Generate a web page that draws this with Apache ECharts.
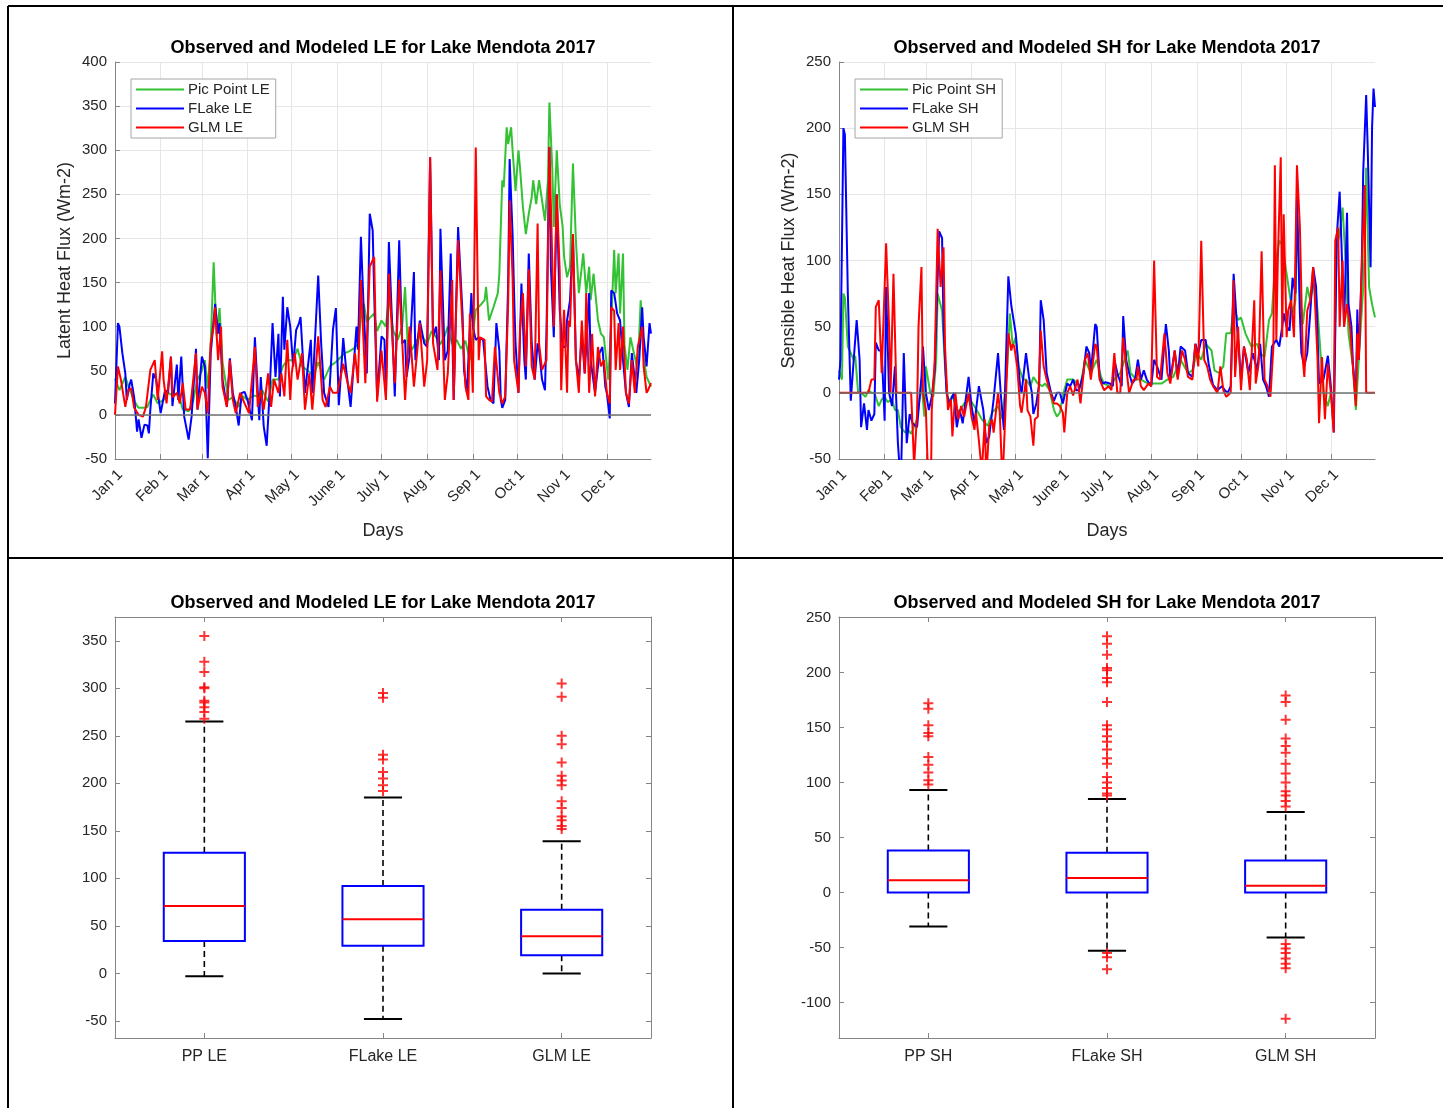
<!DOCTYPE html>
<html>
<head>
<meta charset="utf-8">
<title>Lake Mendota 2017 heat fluxes</title>
<script src="https://cdn.jsdelivr.net/npm/echarts@6/dist/echarts.min.js"></script>
<style>
  html, body { margin: 0; padding: 0; background: #fff; }
  #chart { width: 1443px; height: 1108px; }
</style>
</head>
<body>
<div id="chart"></div>
<script>
// ---- Axis categories -------------------------------------------------------
const monthLabels = ['Jan 1', 'Feb 1', 'Mar 1', 'Apr 1', 'May 1', 'June 1', 'July 1', 'Aug 1', 'Sep 1', 'Oct 1', 'Nov 1', 'Dec 1'];
const monthStartDays = [0, 31, 59, 90, 120, 151, 181, 212, 243, 273, 304, 334];
const leBoxLabels = ['PP LE', 'FLake LE', 'GLM LE'];
const shBoxLabels = ['PP SH', 'FLake SH', 'GLM SH'];

// ---- Latent heat flux, [day of year, W m-2] --------------------------------
const ppLE = [[0,41],[3,28],[7,43],[10,28],[14,13],[16,8],[19,8],[22,9],[24,17],[26,23],[29,13],[33,17],[36,25],[39,22],[43,25],[46,6],[50,4],[53,15],[56,40],[59,50],[61,62],[63,30],[65,81],[67,173],[69,90],[71,121],[73,60],[77,17],[80,20],[84,9],[87,21],[90,17],[94,22],[97,21],[100,28],[104,15],[107,40],[111,40],[114,55],[117,62],[121,62],[124,75],[127,55],[131,50],[135,45],[138,60],[142,40],[146,55],[150,60],[153,65],[156,70],[159,72],[162,75],[165,80],[167,110],[169,126],[171,105],[173,110],[176,115],[178,95],[181,107],[184,100],[186,134],[189,95],[192,85],[195,100],[197,145],[199,70],[202,75],[205,85],[208,90],[212,81],[215,95],[218,88],[221,80],[224,90],[226,100],[229,80],[232,85],[235,75],[238,84],[241,62],[245,119],[249,126],[251,130],[252,145],[254,107],[257,122],[260,138],[261,160],[263,266],[264,258],[266,326],[267,307],[269,326],[270,300],[272,254],[274,300],[275,281],[277,236],[279,205],[281,228],[283,247],[284,266],[286,239],[288,266],[290,243],[292,220],[294,266],[295,354],[297,277],[298,213],[300,300],[302,239],[304,213],[305,179],[307,156],[309,168],[311,285],[313,198],[315,138],[318,183],[320,138],[322,168],[323,130],[325,160],[328,107],[330,92],[332,88],[335,40],[337,104],[339,187],[340,138],[342,183],[343,115],[345,183],[346,80],[348,51],[350,88],[352,73],[355,51],[357,130],[359,65],[361,43],[364,32]];

const flakeLE = [[0,13],[2,104],[3,100],[5,70],[7,47],[8,17],[10,35],[11,40],[13,20],[15,-19],[16,-5],[18,-26],[20,-11],[22,-12],[23,-21],[24,6],[26,47],[28,40],[29,26],[31,2],[34,28],[36,25],[38,66],[39,10],[42,57],[43,17],[45,66],[47,-2],[50,-28],[52,-2],[55,75],[56,6],[59,66],[61,55],[63,-49],[65,70],[68,126],[70,92],[71,104],[73,40],[76,9],[78,64],[80,25],[82,9],[84,-12],[86,25],[88,26],[90,17],[93,-6],[95,88],[97,25],[98,-6],[99,43],[101,-13],[103,-35],[105,25],[107,104],[109,43],[111,92],[112,21],[114,134],[115,74],[117,122],[119,100],[121,55],[123,96],[125,104],[126,111],[129,25],[133,85],[134,25],[138,158],[140,81],[142,25],[145,9],[148,96],[150,121],[152,11],[155,87],[157,51],[160,9],[164,100],[165,74],[167,202],[169,115],[171,47],[173,228],[175,209],[176,138],[178,21],[181,89],[183,85],[184,21],[186,196],[188,111],[190,21],[193,198],[195,81],[197,85],[198,43],[200,66],[203,162],[204,62],[207,107],[210,81],[212,77],[214,292],[216,89],[218,100],[220,62],[221,211],[224,62],[226,73],[228,183],[230,17],[233,213],[236,115],[237,51],[239,25],[242,138],[243,100],[245,85],[247,88],[250,85],[253,32],[255,17],[257,13],[259,104],[261,73],[262,17],[263,8],[265,17],[267,150],[268,290],[270,205],[271,138],[272,81],[274,25],[276,149],[278,62],[279,40],[281,183],[283,81],[285,40],[287,81],[288,73],[290,40],[292,28],[293,92],[295,303],[296,168],[298,88],[300,250],[302,119],[304,77],[306,77],[307,107],[309,130],[311,202],[313,62],[315,40],[317,92],[319,47],[322,138],[323,62],[326,25],[329,70],[331,77],[333,32],[334,25],[336,-4],[337,141],[339,138],[341,115],[343,107],[345,62],[347,25],[349,9],[351,70],[354,25],[356,62],[358,122],[359,88],[361,55],[363,104],[364,92]];

const glmLE = [[0,0],[2,55],[4,40],[7,9],[9,28],[11,30],[13,8],[16,0],[19,-2],[21,9],[24,51],[27,62],[29,17],[32,72],[33,40],[35,13],[38,66],[39,20],[42,25],[44,13],[46,36],[48,6],[51,6],[55,70],[56,6],[59,32],[61,25],[63,2],[65,81],[67,100],[68,122],[70,62],[72,100],[73,32],[76,9],[78,62],[80,17],[82,2],[85,25],[88,13],[91,2],[95,77],[97,9],[99,28],[101,6],[104,47],[106,9],[108,40],[111,25],[113,47],[115,21],[117,85],[119,17],[120,47],[122,70],[124,40],[127,70],[129,6],[132,47],[134,6],[138,89],[141,17],[143,9],[146,32],[148,25],[151,25],[155,58],[158,36],[160,25],[163,70],[165,36],[167,153],[170,36],[173,168],[176,179],[178,15],[181,73],[184,17],[186,160],[190,36],[193,153],[197,17],[200,100],[203,32],[207,104],[210,32],[212,62],[214,292],[216,81],[219,51],[221,164],[224,17],[226,47],[229,153],[230,17],[233,198],[236,100],[238,32],[240,17],[241,115],[243,25],[245,303],[247,62],[248,88],[251,85],[252,21],[254,17],[256,15],[258,77],[261,25],[263,13],[265,21],[267,126],[268,243],[270,156],[271,62],[274,25],[275,96],[277,138],[279,55],[281,165],[283,55],[285,40],[287,217],[288,81],[290,51],[293,62],[295,304],[297,172],[298,100],[300,250],[302,164],[303,28],[305,119],[307,25],[308,107],[309,100],[311,205],[313,62],[315,25],[317,107],[319,47],[320,138],[322,25],[324,92],[326,21],[328,77],[330,55],[332,62],[334,25],[336,13],[337,122],[339,118],[340,51],[342,104],[343,51],[345,100],[347,25],[349,13],[351,62],[353,25],[355,77],[358,100],[359,55],[361,25],[362,28],[364,36]];

// ---- Sensible heat flux, [day of year, W m-2] ------------------------------
const ppSH = [[0,17],[2,10],[3,75],[4,72],[6,35],[8,30],[10,25],[11,28],[13,0],[15,0],[18,-3],[20,2],[22,0],[24,0],[27,-10],[29,-5],[31,-3],[33,-7],[36,-5],[38,-13],[40,-13],[42,-26],[45,-30],[47,-28],[49,-31],[53,-20],[56,7],[58,-18],[59,20],[62,0],[64,-3],[66,25],[67,75],[70,62],[72,20],[74,-8],[77,-2],[81,-15],[85,-8],[89,-5],[93,-12],[97,-20],[101,-25],[104,-15],[108,-10],[111,-20],[114,15],[116,60],[118,35],[120,42],[122,20],[125,10],[127,10],[130,5],[132,12],[135,7],[138,5],[140,7],[143,2],[146,-13],[148,-18],[150,-15],[152,-2],[155,10],[159,10],[162,7],[164,5],[167,25],[171,15],[175,25],[178,12],[180,7],[184,5],[187,10],[191,15],[196,32],[198,15],[202,10],[205,10],[210,7],[214,7],[219,7],[223,10],[227,12],[232,25],[237,15],[240,17],[243,30],[246,25],[249,37],[253,32],[255,17],[258,15],[261,20],[263,45],[266,45],[268,65],[271,55],[273,57],[276,45],[278,40],[280,35],[284,37],[286,30],[289,27],[292,55],[294,60],[296,95],[299,115],[301,112],[303,97],[306,75],[308,60],[310,70],[311,137],[313,75],[315,52],[318,80],[320,70],[323,85],[325,62],[327,30],[329,0],[332,-10],[334,0],[336,0],[338,110],[340,120],[342,140],[344,100],[346,45],[349,20],[351,-13],[353,25],[356,80],[357,110],[358,170],[360,80],[362,67],[364,57]];

const flakeSH = [[0,10],[1,25],[3,200],[4,195],[6,75],[8,-6],[10,25],[12,55],[14,25],[15,-26],[17,-8],[19,-28],[20,-13],[22,-21],[24,-16],[25,38],[27,32],[29,32],[31,-21],[32,80],[34,0],[36,-10],[38,20],[40,-38],[42,-70],[44,30],[46,-38],[48,-16],[50,-23],[53,-26],[56,12],[57,35],[59,0],[61,-13],[63,-3],[65,17],[68,122],[70,117],[71,50],[73,0],[75,-8],[78,0],[80,-26],[82,-13],[84,-23],[88,12],[90,-10],[92,-23],[95,5],[98,-13],[100,-38],[102,-33],[105,-5],[108,30],[110,-3],[112,-28],[115,88],[117,66],[118,65],[120,45],[121,32],[123,5],[124,0],[127,30],[129,12],[131,0],[132,-16],[134,-8],[136,7],[137,70],[139,55],[141,15],[142,10],[144,0],[146,-6],[148,0],[150,0],[152,-8],[155,7],[157,5],[159,10],[161,2],[163,2],[166,15],[168,35],[170,30],[171,15],[174,52],[175,50],[177,12],[179,7],[181,8],[184,7],[186,5],[187,25],[189,15],[192,5],[193,58],[195,25],[197,15],[199,7],[201,10],[203,25],[205,10],[207,17],[209,10],[212,5],[214,25],[216,20],[219,10],[222,52],[224,32],[225,10],[228,32],[230,12],[232,35],[235,32],[237,15],[240,12],[242,37],[244,30],[246,40],[249,40],[251,22],[254,6],[257,2],[260,5],[262,2],[264,0],[266,5],[268,90],[270,55],[273,10],[275,35],[278,15],[281,30],[284,17],[286,37],[288,10],[290,5],[292,-3],[294,35],[297,40],[299,35],[301,50],[302,60],[304,50],[306,47],[308,87],[310,75],[311,148],[313,60],[314,30],[316,20],[318,30],[320,60],[322,95],[324,80],[326,7],[329,10],[332,28],[334,5],[336,-30],[338,117],[340,152],[341,120],[343,50],[345,136],[346,67],[348,50],[349,22],[351,-5],[352,63],[353,25],[355,95],[356,167],[358,225],[359,187],[361,95],[362,200],[363,230],[364,216]];

const glmSH = [[0,0],[20,0],[22,10],[24,10],[25,65],[27,70],[28,70],[29,15],[32,113],[34,50],[35,0],[37,90],[39,0],[49,0],[51,-55],[53,-16],[54,50],[56,95],[57,0],[59,-13],[62,-115],[63,-13],[65,25],[67,124],[69,80],[71,110],[72,35],[74,-13],[76,-5],[77,-33],[79,0],[81,-20],[83,-10],[85,-18],[88,0],[90,-18],[92,-28],[93,-15],[95,-36],[97,-60],[99,-20],[100,-65],[102,-25],[104,-20],[105,-30],[108,0],[109,-10],[111,-69],[113,-15],[115,45],[117,32],[118,37],[119,35],[121,20],[123,-10],[124,-15],[127,10],[128,-13],[130,-18],[132,-40],[133,-20],[135,-18],[137,47],[139,20],[141,10],[143,2],[146,-8],[148,-8],[150,-10],[152,-15],[153,-30],[155,0],[157,5],[159,-2],[162,10],[164,-8],[167,25],[169,30],[171,10],[174,37],[175,35],[177,10],[180,2],[183,5],[185,2],[187,30],[189,0],[191,0],[193,42],[196,10],[197,0],[200,10],[202,10],[203,20],[205,5],[207,2],[210,7],[212,5],[214,100],[216,12],[218,10],[221,45],[223,15],[225,7],[228,32],[230,10],[233,32],[235,25],[237,12],[240,10],[242,37],[244,20],[246,115],[248,25],[250,20],[252,10],[254,5],[257,0],[259,20],[261,2],[263,-3],[266,0],[268,85],[269,12],[271,50],[273,2],[275,35],[277,25],[279,2],[282,70],[283,7],[285,22],[287,107],[289,10],[291,5],[293,-3],[295,35],[296,172],[297,40],[298,100],[300,178],[301,42],[302,135],[304,42],[305,62],[307,70],[309,42],[311,172],[313,125],[315,25],[316,12],[318,62],[320,70],[322,95],[323,75],[325,25],[326,-23],[328,27],[330,-20],[332,22],[334,0],[336,-30],[337,115],[339,125],[340,50],[342,100],[343,50],[345,67],[347,50],[349,20],[351,-10],[352,45],[353,25],[355,95],[357,157],[358,0],[364,0]];

// ---- Box plot statistics: [lower whisker, Q1, median, Q3, upper whisker] ---
const ppLEBox = [-3, 34, 71, 127, 265];
const flakeLEBox = [-48, 29, 57, 92, 185];
const glmLEBox = [0, 19, 39, 67, 139];
const ppSHBox = [-31, 0, 11, 38, 93];
const flakeSHBox = [-53, 0, 13, 36, 85];
const glmSHBox = [-41, 0, 6, 29, 73];

// ---- Outliers ----------------------------------------------------------------
const ppLEOut = [355, 328, 317, 301, 300, 287, 285, 280, 275, 268];
const flakeLEOut = [295, 290, 230, 225, 212, 205, 198, 192];
const glmLEOut = [305, 291, 250, 241, 222, 208, 203, 198, 181, 174, 165, 161, 155, 152];
const ppSHOut = [172, 167, 152, 145, 142, 123, 116, 109, 102, 98];
const flakeSHOut = [233, 226, 216, 204, 202, 195, 191, 173, 152, 148, 142, 137, 130, 122, 117, 105, 100, 95, 90, 88, -55, -59, -70];
const glmSHOut = [179, 173, 157, 140, 133, 127, 117, 108, 100, 92, 88, 83, 78, -47, -51, -55, -60, -65, -69, -115];

// ---- Styling -----------------------------------------------------------------
const FONT = "'Liberation Sans', Arial, Helvetica, sans-serif";
const TXT = '#262626';
const AXIS = '#858585';
const GRIDLINE = '#e6e6e6';
const GREEN = '#33c233';
const BLUE = '#0000ff';
const RED = '#ff0000';

const dayCats = Array.from({ length: 365 }, (_, i) => String(i));
const isMonthStart = (idx) => monthStartDays.indexOf(idx) >= 0;

function timeXAxis(gridIndex) {
  return {
    type: 'category', gridIndex, data: dayCats, boundaryGap: false,
    name: 'Days', nameLocation: 'middle', nameGap: 63,
    nameTextStyle: { fontFamily: FONT, fontSize: 18, color: TXT },
    axisLine: { show: true, onZero: false, lineStyle: { color: AXIS, width: 1 } },
    axisTick: { show: true, inside: true, length: 5, interval: isMonthStart, lineStyle: { color: AXIS } },
    splitLine: { show: true, interval: isMonthStart, lineStyle: { color: GRIDLINE, width: 1 } },
    axisLabel: {
      interval: isMonthStart, rotate: 45, margin: 8, verticalAlign: 'top',
      fontFamily: FONT, fontSize: 15, color: TXT,
      formatter: (v) => { const k = monthStartDays.indexOf(Number(v)); return k >= 0 ? monthLabels[k] : ''; }
    }
  };
}

function timeYAxis(gridIndex, min, max, name) {
  return {
    type: 'value', gridIndex, min, max, interval: 50,
    name, nameLocation: 'middle', nameGap: 41,
    nameTextStyle: { fontFamily: FONT, fontSize: 18, color: TXT },
    axisLine: { show: true, onZero: false, lineStyle: { color: AXIS, width: 1 } },
    axisTick: { show: true, inside: true, length: 5, lineStyle: { color: AXIS } },
    splitLine: { show: true, lineStyle: { color: GRIDLINE, width: 1 } },
    axisLabel: { fontFamily: FONT, fontSize: 15, color: TXT, margin: 8 }
  };
}

function boxXAxis(gridIndex, labels, top) {
  return {
    type: 'category', gridIndex, data: labels, position: top ? 'top' : 'bottom',
    axisLine: { show: true, onZero: false, lineStyle: { color: AXIS, width: 1 } },
    axisTick: { show: true, inside: true, length: 5, alignWithLabel: true, lineStyle: { color: AXIS } },
    splitLine: { show: false },
    axisLabel: { show: !top, fontFamily: FONT, fontSize: 16, color: TXT, margin: 11 }
  };
}

function boxYAxis(gridIndex, min, max, right) {
  return {
    type: 'value', gridIndex, min, max, minInterval: 50, maxInterval: 50,
    position: right ? 'right' : 'left',
    axisLine: { show: true, onZero: false, lineStyle: { color: AXIS, width: 1 } },
    axisTick: { show: true, inside: true, length: 5, lineStyle: { color: AXIS } },
    splitLine: { show: false },
    axisLabel: {
      show: !right, fontFamily: FONT, fontSize: 15, color: TXT, margin: 8,
      formatter: (v) => (Math.abs(v % 50) < 1e-6 ? String(Math.round(v)) : '')
    }
  };
}

function lineSeries(name, data, color, xi, withZero) {
  const s = {
    type: 'line', name, data, xAxisIndex: xi, yAxisIndex: xi,
    symbol: 'none', showSymbol: false, color,
    lineStyle: { color, width: 2 }, itemStyle: { color },
    animation: false, silent: true
  };
  if (withZero) {
    s.markLine = {
      silent: true, symbol: 'none', label: { show: false }, animation: false,
      lineStyle: { color: '#707070', width: 1.5, type: 'solid' },
      data: [{ yAxis: 0 }]
    };
  }
  return s;
}

function renderBox(params, api) {
  const c = api.value(0);
  const lo = api.coord([c, api.value(1)]);
  const q1 = api.coord([c, api.value(2)]);
  const md = api.coord([c, api.value(3)]);
  const q3 = api.coord([c, api.value(4)]);
  const hi = api.coord([c, api.value(5)]);
  const band = api.size([1, 0])[0];
  const hw = band * 0.227;
  const cw = hw * 0.47;
  const cx = md[0];
  const dash = { stroke: '#000', lineWidth: 1.6, lineDash: [6, 4], fill: null };
  const solid = { stroke: '#000', lineWidth: 2, fill: null };
  return {
    type: 'group',
    children: [
      { type: 'line', shape: { x1: cx, y1: q3[1], x2: cx, y2: hi[1] }, style: dash },
      { type: 'line', shape: { x1: cx, y1: q1[1], x2: cx, y2: lo[1] }, style: dash },
      { type: 'line', shape: { x1: cx - cw, y1: hi[1], x2: cx + cw, y2: hi[1] }, style: solid },
      { type: 'line', shape: { x1: cx - cw, y1: lo[1], x2: cx + cw, y2: lo[1] }, style: solid },
      { type: 'rect', shape: { x: cx - hw, y: q3[1], width: 2 * hw, height: q1[1] - q3[1] },
        style: { fill: null, stroke: BLUE, lineWidth: 2 } },
      { type: 'line', shape: { x1: cx - hw, y1: md[1], x2: cx + hw, y2: md[1] },
        style: { stroke: RED, lineWidth: 2, fill: null } }
    ]
  };
}

function boxSeries(stats, xi, yi) {
  return {
    type: 'custom', xAxisIndex: xi, yAxisIndex: yi, renderItem: renderBox,
    data: stats.map((s, i) => [i].concat(s)),
    encode: { x: 0, y: [1, 2, 3, 4, 5] },
    animation: false, silent: true, z: 3
  };
}

const PLUS = 'path://M4,0H6V4H10V6H6V10H4V6H0V4H4Z';
function outlierSeries(groups, xi, yi) {
  const data = [];
  groups.forEach((g, i) => g.forEach(v => data.push([i, v])));
  return {
    type: 'scatter', xAxisIndex: xi, yAxisIndex: yi, data,
    symbol: PLUS, symbolSize: 10, itemStyle: { color: RED },
    animation: false, silent: true, z: 4
  };
}

function legendAt(left, names) {
  return {
    data: names, left, top: 79, orient: 'vertical', selectedMode: false,
    icon: 'rect', itemWidth: 48, itemHeight: 2, itemGap: 4,
    padding: [3, 6, 3, 5], backgroundColor: '#fff',
    borderColor: '#a6a6a6', borderWidth: 1,
    textStyle: { fontFamily: FONT, fontSize: 15, color: TXT, padding: [0, 0, 0, -1] }
  };
}

function titleText(x, y, text) {
  return {
    type: 'text', x, y,
    style: { text, fontFamily: FONT, fontSize: 18, fontWeight: 'bold', fill: '#000',
             align: 'center', verticalAlign: 'middle' }
  };
}

function frameLine(x1, y1, x2, y2) {
  return { type: 'line', shape: { x1, y1, x2, y2 }, style: { stroke: '#000', lineWidth: 2 }, silent: true };
}

const chart = echarts.init(document.getElementById('chart'), null, { renderer: 'canvas' });

chart.setOption({
  backgroundColor: '#fff',
  animation: false,
  grid: [
    { left: 115, top: 62, width: 536, height: 397 },
    { left: 839, top: 62, width: 536, height: 397 },
    { left: 115, top: 617, width: 536, height: 421 },
    { left: 839, top: 617, width: 536, height: 421 }
  ],
  legend: [
    legendAt(131, ['Pic Point LE', 'FLake LE', 'GLM LE']),
    legendAt(855, ['Pic Point SH', 'FLake SH', 'GLM SH'])
  ],
  xAxis: [
    timeXAxis(0),
    timeXAxis(1),
    boxXAxis(2, leBoxLabels, false),
    boxXAxis(3, shBoxLabels, false),
    boxXAxis(2, leBoxLabels, true),
    boxXAxis(3, shBoxLabels, true)
  ],
  yAxis: [
    timeYAxis(0, -50, 400, 'Latent Heat Flux (Wm-2)'),
    timeYAxis(1, -50, 250, 'Sensible Heat Flux (Wm-2)'),
    boxYAxis(2, -68, 375, false),
    boxYAxis(3, -132.4, 250.4, false),
    boxYAxis(2, -68, 375, true),
    boxYAxis(3, -132.4, 250.4, true)
  ],
  series: [
    lineSeries('Pic Point LE', ppLE, GREEN, 0, true),
    lineSeries('FLake LE', flakeLE, BLUE, 0, false),
    lineSeries('GLM LE', glmLE, RED, 0, false),
    lineSeries('Pic Point SH', ppSH, GREEN, 1, true),
    lineSeries('FLake SH', flakeSH, BLUE, 1, false),
    lineSeries('GLM SH', glmSH, RED, 1, false),
    boxSeries([ppLEBox, flakeLEBox, glmLEBox], 2, 2),
    outlierSeries([ppLEOut, flakeLEOut, glmLEOut], 2, 2),
    boxSeries([ppSHBox, flakeSHBox, glmSHBox], 3, 3),
    outlierSeries([ppSHOut, flakeSHOut, glmSHOut], 3, 3)
  ],
  graphic: [
    titleText(383, 48, 'Observed and Modeled LE for Lake Mendota 2017'),
    titleText(1107, 48, 'Observed and Modeled SH for Lake Mendota 2017'),
    titleText(383, 603, 'Observed and Modeled LE for Lake Mendota 2017'),
    titleText(1107, 603, 'Observed and Modeled SH for Lake Mendota 2017'),
    frameLine(8, 6, 1443, 6),
    frameLine(8, 6, 8, 1108),
    frameLine(733, 6, 733, 1108),
    frameLine(8, 558, 1443, 558)
  ]
});
</script>
</body>
</html>
